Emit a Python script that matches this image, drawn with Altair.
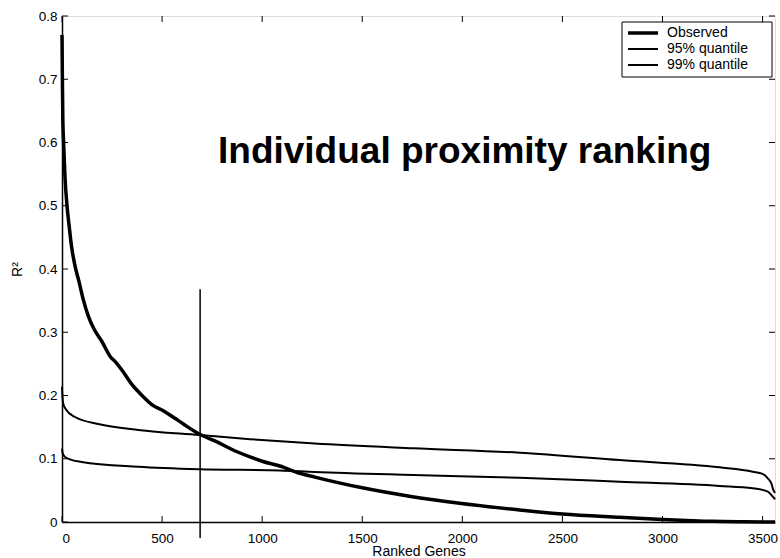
import altair as alt
import pandas as pd

# Observed R^2 by gene rank
obs_rank = [0, 2, 4, 8, 15, 25, 35, 48, 65, 85, 106, 131, 160, 200, 240, 270, 300,
            348, 400, 456, 506, 564, 606, 686, 772, 847, 939, 1000, 1088, 1188, 1263,
            1488, 1750, 1987, 2286, 2500, 2786, 3000, 3118, 3250, 3400, 3562]
obs_r2 = [0.77, 0.70, 0.64, 0.60, 0.545, 0.50, 0.47, 0.435, 0.405, 0.38, 0.352, 0.326,
          0.305, 0.285, 0.262, 0.252, 0.240, 0.218, 0.200, 0.184, 0.176, 0.164, 0.155,
          0.139, 0.127, 0.115, 0.103, 0.096, 0.0885, 0.077, 0.071, 0.0548, 0.040,
          0.0296, 0.019, 0.0125, 0.0074, 0.004, 0.0025, 0.001, 0.0003, 0.0]

# 95% quantile of the null distribution
q95_rank = [0, 3, 7, 20, 65, 181, 381, 686, 939, 1263, 1754, 2286, 2786, 3285, 3451,
            3500, 3526, 3545, 3552, 3562]
q95_r2 = [0.214, 0.195, 0.186, 0.178, 0.166, 0.155, 0.1455, 0.1375, 0.131, 0.124,
          0.1165, 0.1096, 0.098, 0.0865, 0.0796, 0.076, 0.069, 0.060, 0.052, 0.046]

# 99% quantile of the null distribution
q99_rank = [0, 4, 15, 40, 98, 381, 686, 1088, 1263, 1754, 2286, 2786, 3285, 3451,
            3526, 3551, 3562]
q99_r2 = [0.116, 0.108, 0.103, 0.099, 0.095, 0.0875, 0.0835, 0.0815, 0.079, 0.0743,
          0.070, 0.0637, 0.057, 0.0533, 0.048, 0.040, 0.036]

series_names = ["Observed", "95% quantile", "99% quantile"]
series_widths = [3.5, 2, 2]

# cut-off marker
cutoff_rank = [690]
cutoff_top = [0.368]

x_ticks = [0, 500, 1000, 1500, 2000, 2500, 3000, 3500]
y_ticks = [0, 0.1, 0.2, 0.3, 0.4, 0.5, 0.6, 0.7, 0.8]
x_max = 3562

W, H = 713, 506
FONT = "Liberation Sans"
TICK = 6

rows = []
for name, rk, vals in zip(series_names, [obs_rank, q95_rank, q99_rank],
                          [obs_r2, q95_r2, q99_r2]):
    for r, v in zip(rk, vals):
        rows.append({"series": name, "rank": r, "r2": v})
df = pd.DataFrame(rows)

xscale = alt.Scale(domain=[0, x_max], nice=False, zero=False)
yscale = alt.Scale(domain=[0, 0.8], nice=False)

axis_common = dict(tickSize=0, grid=False, domainColor="black", domainWidth=1.5,
                   labelColor="black", titleColor="black", labelFont=FONT,
                   titleFont=FONT, labelFontSize=13.5, titleFontSize=14,
                   titleFontWeight="normal")

x_enc = alt.X("rank:Q", scale=xscale, title="Ranked Genes",
              axis=alt.Axis(values=x_ticks, format="d", labelPadding=9,
                            titlePadding=0, **axis_common))
y_enc = alt.Y("r2:Q", scale=yscale, title="R²",
              axis=alt.Axis(values=y_ticks, labelPadding=5, titlePadding=14,
                            labelExpr="datum.value == 0 ? '0' : format(datum.value, '.1f')",
                            **axis_common))

series_lines = []
for name, w in zip(series_names, series_widths):
    series_lines.append(
        alt.Chart(df).transform_filter(alt.datum.series == name)
        .mark_line(color="black", strokeWidth=w, interpolate="monotone")
        .encode(x=x_enc, y=y_enc)
    )

cut_df = pd.DataFrame({"rank": cutoff_rank, "top": cutoff_top})
cutoff = alt.Chart(cut_df).mark_rule(color="black", strokeWidth=1.5, clip=False).encode(
    x=alt.X("rank:Q", scale=xscale),
    y=alt.Y("top:Q", scale=yscale),
    y2=alt.value(H + 16),
)

# inward-pointing ticks on all four sides of the frame
xt = pd.DataFrame({"t": x_ticks})
yt = pd.DataFrame({"t": y_ticks})
tick_style = dict(color="black", strokeWidth=1)
ticks = alt.layer(
    alt.Chart(xt).mark_rule(**tick_style).encode(
        x=alt.X("t:Q", scale=xscale), y=alt.value(H), y2=alt.value(H - TICK)),
    alt.Chart(xt).mark_rule(**tick_style).encode(
        x=alt.X("t:Q", scale=xscale), y=alt.value(0), y2=alt.value(TICK)),
    alt.Chart(yt).mark_rule(**tick_style).encode(
        y=alt.Y("t:Q", scale=yscale), x=alt.value(0), x2=alt.value(TICK)),
    alt.Chart(yt).mark_rule(**tick_style).encode(
        y=alt.Y("t:Q", scale=yscale), x=alt.value(W), x2=alt.value(W - TICK)),
)

# legend box in the upper-right corner
LX, LY, LW, LH = 560, 6, 150, 55
legend_parts = [
    alt.Chart(pd.DataFrame({"k": [0]})).mark_rect(
        fill="white", stroke="black", strokeWidth=1
    ).encode(x=alt.value(LX), x2=alt.value(LX + LW),
             y=alt.value(LY), y2=alt.value(LY + LH))
]
for i, (name, w) in enumerate(zip(series_names, series_widths)):
    ry = LY + 11 + 16 * i
    legend_parts.append(
        alt.Chart(pd.DataFrame({"k": [0]})).mark_rule(color="black", strokeWidth=w)
        .encode(x=alt.value(LX + 6), x2=alt.value(LX + 36), y=alt.value(ry))
    )
    legend_parts.append(
        alt.Chart(pd.DataFrame({"label": [name]})).mark_text(
            font=FONT, fontSize=14, color="black", align="left", baseline="middle"
        ).encode(text="label:N", x=alt.value(LX + 45), y=alt.value(ry))
    )
legend = alt.layer(*legend_parts)

label = alt.Chart(pd.DataFrame({"text": ["Individual proximity ranking"]})).mark_text(
    font=FONT, fontSize=37, fontWeight="bold", color="black",
    align="left", baseline="alphabetic",
).encode(text="text:N", x=alt.value(156), y=alt.value(147))

chart = alt.layer(ticks, *series_lines, cutoff, label, legend).properties(
    width=W, height=H,
    autosize=alt.AutoSizeParams(type="none"),
    padding={"left": 62, "top": 16, "right": 5, "bottom": 36},
).configure_view(stroke="black", strokeWidth=1.5).configure(background="white")

chart.save("out.html", embed_options={"renderer": "svg", "actions": False})
